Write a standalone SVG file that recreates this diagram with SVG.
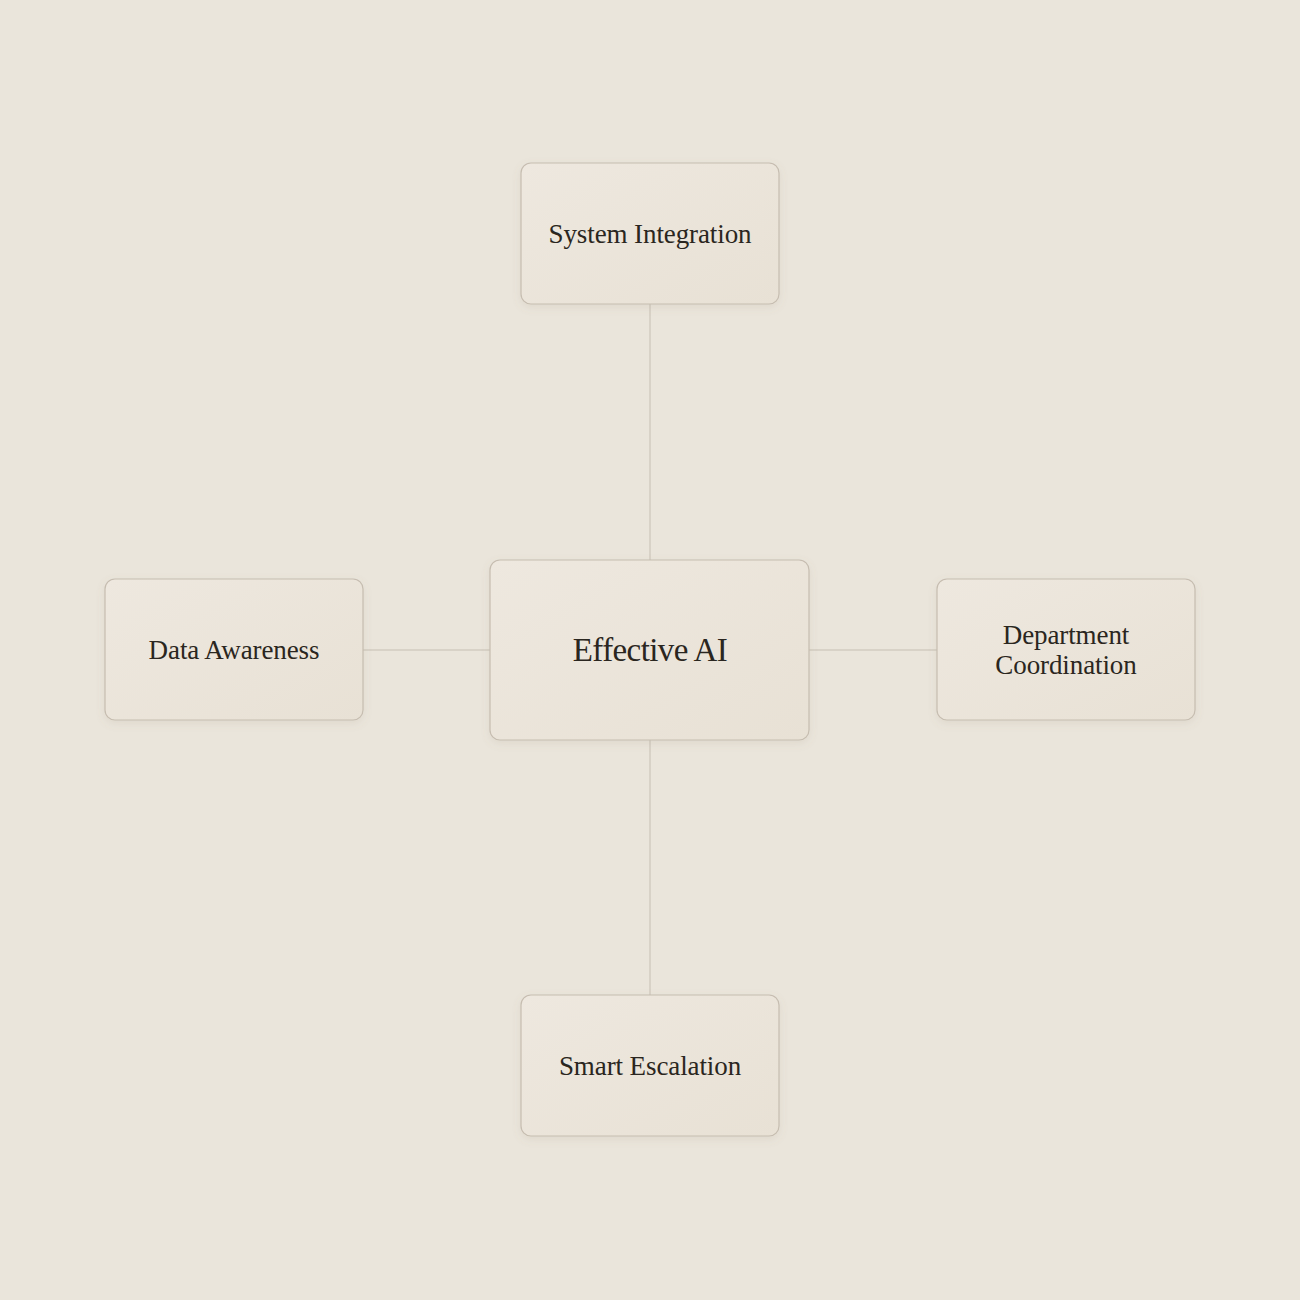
<svg xmlns="http://www.w3.org/2000/svg" width="1300" height="1300" viewBox="0 0 1300 1300">
<defs>
<linearGradient id="nodeFill" x1="0" y1="0" x2="1" y2="1">
<stop offset="0" stop-color="#EEE8DF"/>
<stop offset="1" stop-color="#E8E1D5"/>
</linearGradient>
<filter id="shadow" x="-10%" y="-10%" width="120%" height="130%">
<feDropShadow dx="0" dy="3" stdDeviation="4" flood-color="#8A7A66" flood-opacity="0.12"/>
</filter>
<style>
.node rect{fill:url(#nodeFill);stroke:#C6BDB0;stroke-width:1.2;filter:url(#shadow)}
.node text{font-family:"Liberation Serif","DejaVu Serif",serif;fill:#2A2620;text-anchor:middle;dominant-baseline:central}
.lbl{font-size:27px;letter-spacing:-0.1px}
.main{font-size:33px;letter-spacing:-0.6px}
.conn line{stroke:#D2CBC0;stroke-width:1.5}
</style>
</defs>
<rect width="1300" height="1300" fill="#EAE5DB"/>
<g id="connectors" class="conn">
<line x1="650" y1="304" x2="650" y2="560"/>
<line x1="650" y1="740" x2="650" y2="995"/>
<line x1="363" y1="650" x2="490" y2="650"/>
<line x1="809" y1="650" x2="937" y2="650"/>
</g>
<g id="effective-ai" class="node">
<rect x="490" y="560" width="319" height="180" rx="10"/>
<text class="main" x="650" y="650">Effective AI</text>
</g>
<g id="system-integration" class="node">
<rect x="521" y="163" width="258" height="141" rx="10"/>
<text class="lbl" x="650" y="234">System Integration</text>
</g>
<g id="data-awareness" class="node">
<rect x="105" y="579" width="258" height="141" rx="10"/>
<text class="lbl" x="234" y="650">Data Awareness</text>
</g>
<g id="department-coordination" class="node">
<rect x="937" y="579" width="258" height="141" rx="10"/>
<text class="lbl" x="1066" y="635">Department</text>
<text class="lbl" x="1066" y="665">Coordination</text>
</g>
<g id="smart-escalation" class="node">
<rect x="521" y="995" width="258" height="141" rx="10"/>
<text class="lbl" x="650" y="1066">Smart Escalation</text>
</g>
</svg>
